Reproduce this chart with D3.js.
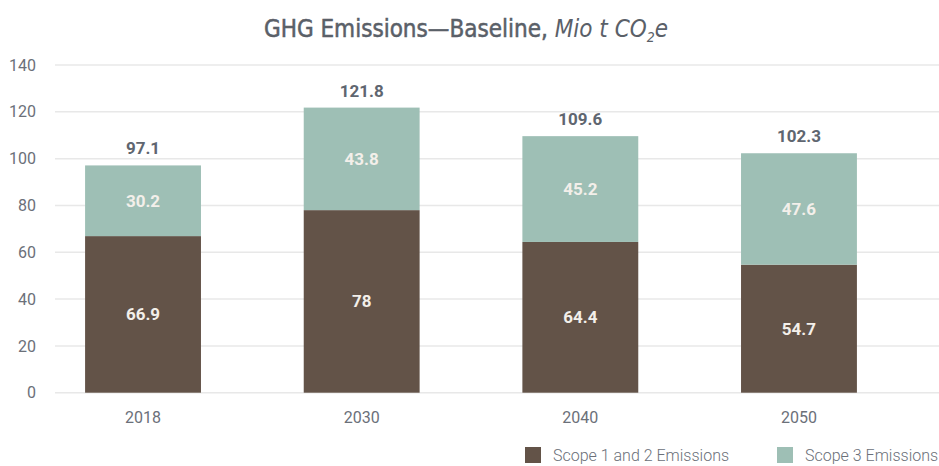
<!DOCTYPE html>
<html>
<head>
<meta charset="utf-8">
<script src="https://cdn.jsdelivr.net/npm/d3@7"></script>
<style>
  body { margin: 0; background: #fff; }
  #chart { width: 939px; height: 466px; }
  text { font-family: Roboto, "Open Sans", sans-serif; }
</style>
</head>
<body>
<div id="chart"></div>
<script>
const years = ["2018", "2030", "2040", "2050"];
const scope12 = [66.9, 78, 64.4, 54.7];
const scope3 = [30.2, 43.8, 45.2, 47.6];
const totals = [97.1, 121.8, 109.6, 102.3];
const yTicks = [0, 20, 40, 60, 80, 100, 120, 140];
const seriesNames = ["Scope 1 and 2 Emissions", "Scope 3 Emissions"];
const colors = ["#635348", "#9ebfb5"];

const width = 939, height = 466;
const svg = d3.select("#chart").append("svg")
  .attr("width", width)
  .attr("height", height);

// title
const title = svg.append("text")
  .attr("x", 466)
  .attr("y", 37)
  .attr("text-anchor", "middle")
  .attr("fill", "#5a6068")
  .style("font-family", "'Liberation Sans Narrow', 'DejaVu Sans', sans-serif")
  .style("font-stretch", "condensed")
  .style("font-size", "24px");
title.append("tspan")
  .attr("stroke", "#5a6068").attr("stroke-width", 0.5)
  .text("GHG Emissions\u2014Baseline, ");
title.append("tspan").style("font-style", "italic").text("Mio t CO");
title.append("tspan").style("font-style", "italic").style("font-size", "14px").attr("dy", 5).text("2");
title.append("tspan").style("font-style", "italic").attr("dy", -5).text("e");

const y = d3.scaleLinear().domain([0, 140]).range([392.7, 65]);
const x = d3.scaleBand().domain(years).range([33.7, 908.3])
  .paddingInner(0.47).paddingOuter(0.235);

// gridlines
svg.append("g")
  .selectAll("line")
  .data(yTicks)
  .join("line")
  .attr("x1", 55).attr("x2", width)
  .attr("y1", d => y(d)).attr("y2", d => y(d))
  .attr("stroke", "#e8e8e8")
  .attr("stroke-width", 1.5);

// y axis labels
const yAxis = d3.axisLeft(y).tickValues(yTicks).tickSize(0).tickPadding(0);
svg.append("g")
  .attr("transform", "translate(36,0)")
  .call(yAxis)
  .call(g => g.select(".domain").remove())
  .selectAll("text")
  .attr("fill", "#6b7079")
  .style("font-size", "16px");

// stacked data
const rows = years.map((yr, i) => ({ year: yr, s12: scope12[i], s3: scope3[i] }));
const stack = d3.stack().keys(["s12", "s3"])(rows);

const layers = svg.append("g").selectAll("g")
  .data(stack)
  .join("g")
  .attr("fill", (d, i) => colors[i]);

layers.selectAll("rect")
  .data(d => d)
  .join("rect")
  .attr("x", d => x(d.data.year))
  .attr("width", x.bandwidth())
  .attr("y", d => y(d[1]))
  .attr("height", d => y(d[0]) - y(d[1]));

// segment labels
layers.selectAll("text")
  .data(d => d)
  .join("text")
  .attr("x", d => x(d.data.year) + x.bandwidth() / 2)
  .attr("y", d => (y(d[0]) + y(d[1])) / 2)
  .attr("dy", "0.35em")
  .attr("text-anchor", "middle")
  .attr("fill", "#f3efea")
  .style("font-weight", "bold")
  .style("font-size", "17px")
  .text((d, i, n) => {
    const key = d3.select(n[i].parentNode).datum().key;
    return d.data[key];
  });

// totals
svg.append("g").selectAll("text")
  .data(years)
  .join("text")
  .attr("x", d => x(d) + x.bandwidth() / 2)
  .attr("y", (d, i) => y(totals[i]) - 11)
  .attr("text-anchor", "middle")
  .attr("fill", "#5f6670")
  .style("font-weight", "bold")
  .style("font-size", "17px")
  .text((d, i) => totals[i]);

// x axis labels
const xAxis = d3.axisBottom(x).tickSize(0).tickPadding(0);
svg.append("g")
  .attr("transform", "translate(0,412)")
  .call(xAxis)
  .call(g => g.select(".domain").remove())
  .selectAll("text")
  .attr("fill", "#6b7079")
  .style("font-size", "16px");

// legend
const legendX = [525, 777];
const legend = svg.append("g").selectAll("g")
  .data(seriesNames)
  .join("g")
  .attr("transform", (d, i) => `translate(${legendX[i]},447)`);
legend.append("rect")
  .attr("width", 16).attr("height", 16)
  .attr("fill", (d, i) => colors[i]);
legend.append("text")
  .attr("x", 28).attr("y", 8)
  .attr("dy", "0.35em")
  .attr("fill", "#6b7079")
  .style("font-size", "16px")
  .style("font-weight", 300)
  .text(d => d);
</script>
</body>
</html>
